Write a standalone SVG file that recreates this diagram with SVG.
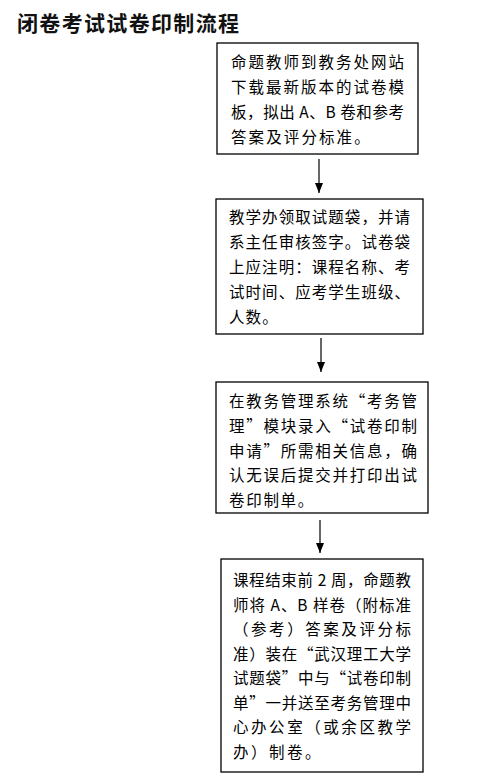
<svg xmlns="http://www.w3.org/2000/svg" width="502" height="781" viewBox="0 0 502 781">
<style>
.box{fill:#fff;stroke:#000;stroke-width:1.3}
.t{font-family:"Noto Sans CJK SC","Noto Sans CJK JP",sans-serif;font-size:15.5px;fill:#000}
.title{font-family:"Noto Sans CJK SC","Noto Sans CJK JP",sans-serif;font-size:21px;font-weight:bold;fill:#111}
.c{fill:none;stroke:#000;stroke-width:1.2}
</style>
<defs>
<marker id="ah" markerUnits="userSpaceOnUse" markerWidth="10" markerHeight="10" refX="10" refY="5" orient="auto" viewBox="0 0 10 10">
<path d="M0,1 L10,5 L0,9 Z" fill="#000"/>
</marker>
</defs>
<rect width="502" height="781" fill="#fff"/>
<text class="title" x="17" y="31" textLength="222" lengthAdjust="spacing">闭卷考试试卷印制流程</text>
<g id="connectors">
<path class="c" d="M319,159 L319,193" marker-end="url(#ah)"/>
<path class="c" d="M321,338 L321,372" marker-end="url(#ah)"/>
<path class="c" d="M320,520 L320,553" marker-end="url(#ah)"/>
</g>
<g id="node1">
<rect class="box" x="217" y="43" width="201" height="111"/>
<text class="t" x="231" y="68" textLength="173" lengthAdjust="spacing">命题教师到教务处网站</text>
<text class="t" x="231" y="93" textLength="173" lengthAdjust="spacing">下载最新版本的试卷模</text>
<text class="t" x="231" y="118" textLength="173" lengthAdjust="spacing">板，拟出 A、B 卷和参考</text>
<text class="t" x="231" y="143" letter-spacing="2.1">答案及评分标准。</text>
</g>
<g id="node2">
<rect class="box" x="216" y="199" width="207" height="135"/>
<text class="t" x="229" y="223" textLength="181" lengthAdjust="spacing">教学办领取试题袋，并请</text>
<text class="t" x="229" y="248" textLength="181" lengthAdjust="spacing">系主任审核签字。试卷袋</text>
<text class="t" x="229" y="273" textLength="181" lengthAdjust="spacing">上应注明：课程名称、考</text>
<text class="t" x="229" y="298" textLength="181" lengthAdjust="spacing">试时间、应考学生班级、</text>
<text class="t" x="229" y="323" letter-spacing="1.1">人数。</text>
</g>
<g id="node3">
<rect class="box" x="216" y="382" width="212" height="131"/>
<text class="t" x="229" y="407" textLength="188" lengthAdjust="spacing">在教务管理系统“考务管</text>
<text class="t" x="229" y="432" textLength="188" lengthAdjust="spacing">理”模块录入“试卷印制</text>
<text class="t" x="229" y="457" textLength="188" lengthAdjust="spacing">申请”所需相关信息，确</text>
<text class="t" x="229" y="481" textLength="188" lengthAdjust="spacing">认无误后提交并打印出试</text>
<text class="t" x="229" y="506" letter-spacing="1.7">卷印制单。</text>
</g>
<g id="node4">
<rect class="box" x="221" y="559" width="202" height="213"/>
<text class="t" x="233" y="586" textLength="178" lengthAdjust="spacing">课程结束前 2 周，命题教</text>
<text class="t" x="233" y="611" textLength="178" lengthAdjust="spacing">师将 A、B 样卷（附标准</text>
<text class="t" x="233" y="635" textLength="178" lengthAdjust="spacing">（参考）答案及评分标</text>
<text class="t" x="233" y="660" textLength="178" lengthAdjust="spacing">准）装在“武汉理工大学</text>
<text class="t" x="233" y="684" textLength="178" lengthAdjust="spacing">试题袋”中与“试卷印制</text>
<text class="t" x="233" y="709" textLength="178" lengthAdjust="spacing">单”一并送至考务管理中</text>
<text class="t" x="233" y="733" textLength="178" lengthAdjust="spacing">心办公室（或余区教学</text>
<text class="t" x="233" y="758" letter-spacing="2.5">办）制卷。</text>
</g>
</svg>
